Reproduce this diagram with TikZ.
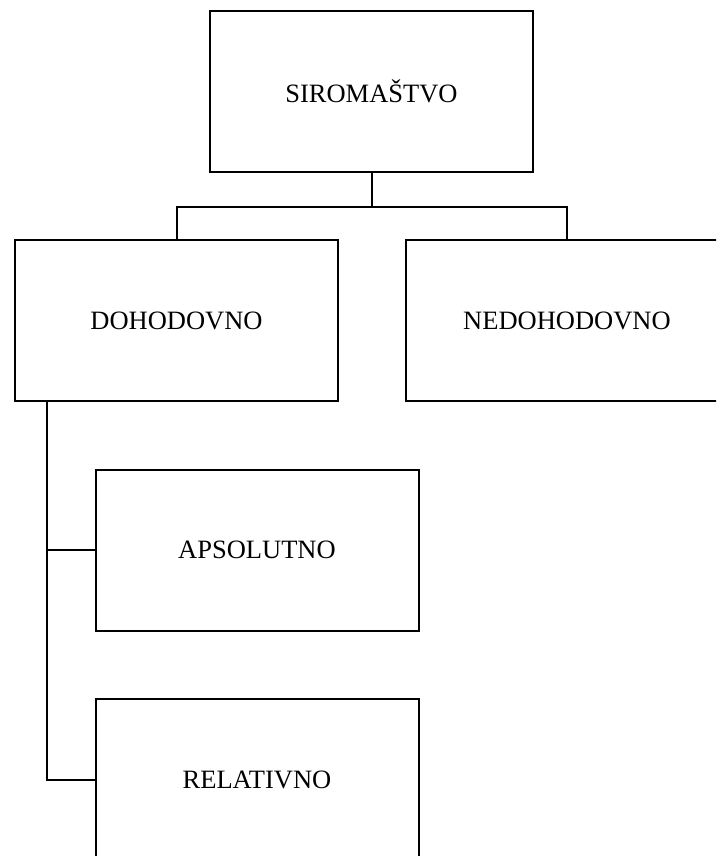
\documentclass[tikz,border=0pt]{standalone}
\usepackage{fontspec}
\setmainfont{Liberation Serif}
\begin{document}
\begin{tikzpicture}[x=1pt,y=-1pt,
  box/.style={draw=black,line width=2pt,rectangle,minimum width=323pt,minimum height=161pt,inner sep=0pt,font=\fontsize{26.5}{30}\selectfont},
  conn/.style={draw=black,line width=2pt}]
\useasboundingbox (0,0) rectangle (716,856);
\clip (0,0) rectangle (716,856);
\fill[white] (0,0) rectangle (716,856);
\node[box] (sir) at (371.5,91.5) {SIROMAŠTVO};
\node[box] (doh) at (176.5,320.5) {DOHODOVNO};
\node[box] (ned) at (567,320.5) {NEDOHODOVNO};
\node[box] (aps) at (257,550) {APSOLUTNO};
\node[box] (rel) at (257,779.5) {RELATIVNO};
\coordinate (j) at (371.5,207);
\coordinate (t) at (47,401);
\draw[conn] (sir.south) -- (j);
\draw[conn] (j) -| (doh.north);
\draw[conn] (j) -| (ned.north);
\draw[conn] (t) |- (aps.west);
\draw[conn] (t) |- (rel.west);
\end{tikzpicture}
\end{document}
